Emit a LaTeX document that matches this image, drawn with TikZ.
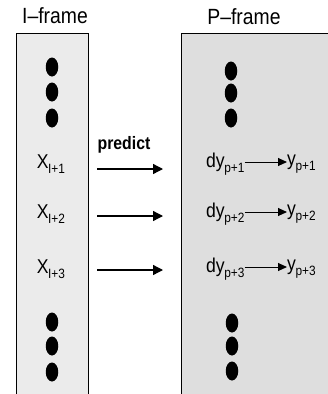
\documentclass[tikz,border=0pt]{standalone}
\usepackage{fontspec}
\setmainfont[FakeStretch=0.88]{Liberation Sans}
\usetikzlibrary{arrows.meta,shapes.geometric}
\newcommand{\sublab}[2]{#1\kern-0.5pt\raisebox{-0.5ex}{\fontsize{13.5}{13.5}\selectfont #2}}
\begin{document}
\begin{tikzpicture}[x=1pt,y=-1pt,
  frame/.style={draw=black,line width=1pt},
  title/.style={font=\fontsize{22}{22}\selectfont,inner sep=0pt},
  lab/.style={font=\fontsize{20}{20}\selectfont,inner sep=0pt},
  dotmark/.style={ellipse,fill=black,minimum width=12.5pt,minimum height=19pt,inner sep=0pt},
  arr/.style={-{Triangle[length=10pt,width=10pt]},line width=1.3pt}]
\useasboundingbox (0,0) rectangle (328,394);
\path[frame,fill=gray!16] (16,33) rectangle (88,396);
\path[frame,fill=gray!26] (181,33) rectangle (330,396);
\node[title] (it) at (55,16) {I–frame};
\node[title] (pt) at (244,17) {P–frame};
% left dots
\node[dotmark] (l1) at (52,67) {};
\node[dotmark] (l2) at (52,92) {};
\node[dotmark] (l3) at (52,118) {};
\node[dotmark] (l4) at (52,322) {};
\node[dotmark] (l5) at (52,346) {};
\node[dotmark] (l6) at (52,372) {};
% right dots
\node[dotmark] (r1) at (231,71) {};
\node[dotmark] (r2) at (231,93) {};
\node[dotmark] (r3) at (231,118) {};
\node[dotmark] (r4) at (232,323) {};
\node[dotmark] (r5) at (232,346) {};
\node[dotmark] (r6) at (232,371) {};
% left labels
\node[lab] (x1) at (51,164) {\sublab{X}{I+1}};
\node[lab] (x2) at (51,214) {\sublab{X}{I+2}};
\node[lab] (x3) at (51,269) {\sublab{X}{I+3}};
% arrow endpoints
\coordinate (a1s) at (97,169); \coordinate (a1e) at (163,169);
\coordinate (a2s) at (97,216); \coordinate (a2e) at (163,216);
\coordinate (a3s) at (97,270); \coordinate (a3e) at (163,270);
\draw[arr] (a1s) -- (a1e);
\draw[arr] (a2s) -- (a2e);
\draw[arr] (a3s) -- (a3e);
\node[lab,font=\fontsize{18}{18}\selectfont\bfseries] (pr) at (124,145) {predict};
% right labels
\node[lab,anchor=west] (d1) at (206,164) {\sublab{dy}{p+1}};
\node[lab,anchor=west] (d2) at (206,214) {\sublab{dy}{p+2}};
\node[lab,anchor=west] (d3) at (206,269) {\sublab{dy}{p+3}};
\node[lab,anchor=west] (y1) at (287,164) {\sublab{y}{p+1}};
\node[lab,anchor=west] (y2) at (287,214) {\sublab{y}{p+2}};
\node[lab,anchor=west] (y3) at (287,269) {\sublab{y}{p+3}};
\draw[arr,line width=1pt,-{Triangle[length=9pt,width=8pt]}] (d1.east |- 0,162) -- (y1.west |- 0,162);
\draw[arr,line width=1pt,-{Triangle[length=9pt,width=8pt]}] (d2.east |- 0,212) -- (y2.west |- 0,212);
\draw[arr,line width=1pt,-{Triangle[length=9pt,width=8pt]}] (d3.east |- 0,267) -- (y3.west |- 0,267);
\end{tikzpicture}
\end{document}
